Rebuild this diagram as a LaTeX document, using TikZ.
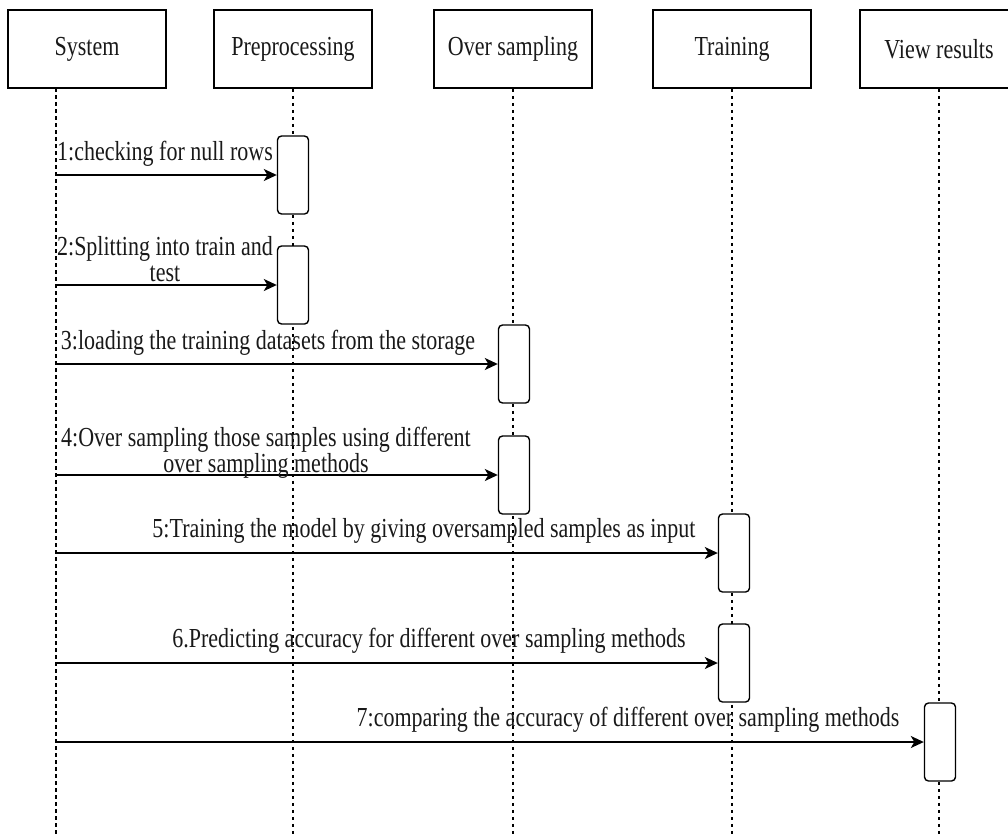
\documentclass[tikz,border=0pt]{standalone}
\usepackage{fontspec}
\setmainfont[FakeStretch=0.8]{Liberation Serif}
\usetikzlibrary{arrows.meta}

\begin{document}
\begin{tikzpicture}[x=1pt,y=-1pt,
    every node/.style={font=\fontsize{27.5}{26}\selectfont, text=black!90},
    head/.style={draw, line width=1.5pt, minimum width=158pt, minimum height=78pt, inner sep=0pt},
    act/.style={draw, line width=1.4pt, rounded corners=4pt, minimum width=31pt, minimum height=78pt, inner sep=0pt, fill=white},
    life/.style={line width=1.3pt, dash pattern=on 3.5pt off 3.5pt},
    msg/.style={line width=1.6pt, -{Stealth[length=13pt, width=12pt, inset=3.5pt]}},
    lbl/.style={align=center, inner sep=0pt}]
    \useasboundingbox (0,0) rectangle (1008,836);

    % Participants
    \node[head] (sys) at (87,49) {System};
    \node[head] (pre) at (293,49) {Preprocessing};
    \node[head] (ovs) at (513,49) {Over sampling};
    \node[head] (trn) at (732,49) {Training};
    \node[head] (res) at (939,49) {View results};

    % Lifelines (the System one sits left of its box centre)
    \coordinate (bot) at (0,836);
    \coordinate (syl) at (56,88);
    \draw[life] (syl) -- (syl |- bot);
    \foreach \p in {pre,ovs,trn,res}
        \draw[life] (\p.south) -- (\p |- bot);

    % Activation bars
    \node[act] (pre1) at (293,175) {};
    \node[act] (pre2) at (293,285) {};
    \node[act] (ovs1) at (514,364) {};
    \node[act] (ovs2) at (514,475) {};
    \node[act] (trn1) at (734,553) {};
    \node[act] (trn2) at (734,663) {};
    \node[act] (res1) at (940,742) {};

    % Messages
    \draw[msg] (syl |- pre1.west) -- (pre1.west);
    \draw[msg] (syl |- pre2.west) -- (pre2.west);
    \draw[msg] (syl |- ovs1.west) -- (ovs1.west);
    \draw[msg] (syl |- ovs2.west) -- (ovs2.west);
    \draw[msg] (syl |- trn1.west) -- (trn1.west);
    \draw[msg] (syl |- trn2.west) -- (trn2.west);
    \draw[msg] (syl |- res1.west) -- (res1.west);

    % Message labels
    \node[lbl] (l1) at (165,154) {1:checking for null rows};
    \node[lbl] (l2) at (165,259) {2:Splitting into train and\\test};
    \node[lbl] (l3) at (268,343) {3:loading the training datasets from the storage};
    \node[lbl] (l4) at (266,453) {4:Over sampling those samples using different\\over sampling methods};
    \node[lbl] (l5) at (424,531) {5:Training the model by giving oversampled samples as input};
    \node[lbl] (l6) at (429,641) {6.Predicting accuracy for different over sampling methods};
    \node[lbl] (l7) at (628,720) {7:comparing the accuracy of different over sampling methods};
\end{tikzpicture}
\end{document}
